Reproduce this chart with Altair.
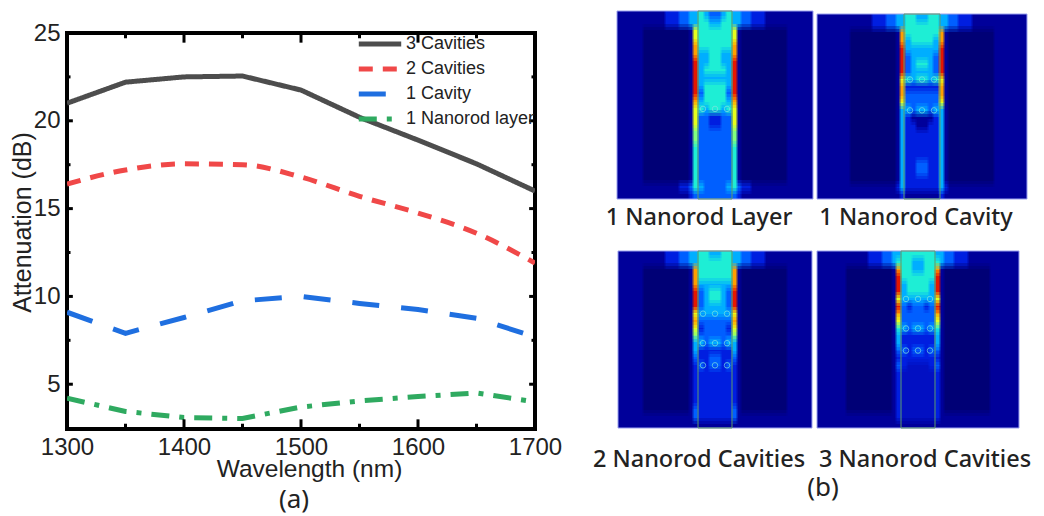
import altair as alt
import pandas as pd

wavelength = [1300, 1350, 1400, 1450, 1500, 1550, 1600, 1650, 1700]
cav3 = [21.0, 22.2, 22.5, 22.55, 21.75, 20.2, 18.9, 17.55, 16.0]
cav2 = [16.4, 17.2, 17.55, 17.5, 16.8, 15.7, 14.75, 13.6, 11.9]
cav1 = [9.1, 7.9, 8.8, 9.75, 10.0, 9.6, 9.25, 8.75, 7.7]
layer1 = [4.2, 3.45, 3.1, 3.05, 3.7, 4.05, 4.3, 4.5, 4.0]
series_names = ["3 Cavities", "2 Cavities", "1 Cavity", "1 Nanorod layer"]
series_values = [cav3, cav2, cav1, layer1]
series_colors = ["#4d4d4d", "#f04848", "#1f6fe0", "#2faa60"]
series_dash = [[1, 0], [14, 10], [27, 22], [18, 10, 5, 10]]
x_major = [1300, 1400, 1500, 1600, 1700]
x_minor = [1350, 1450, 1550, 1650]
y_major = [5, 10, 15, 20]
y_minor = [7.5, 12.5, 17.5, 22.5]

# Field strength read from the maps, 0 (navy) to 10 (dark red), one row per band
# from top to bottom, half a panel from the outer edge to the rod centre.
p1 = [
    [1, 1, 2, 3, 4, 4, 5, 4, 3], [1, 1, 2, 3, 4, 4, 5, 5, 4],
    [1, 0, 0, 0, 1, 7, 5, 5, 5], [1, 0, 0, 0, 1, 7, 5, 5, 5],
    [1, 0, 0, 0, 1, 8, 5, 5, 5], [1, 0, 0, 0, 1, 8, 4, 4, 5],
    [1, 0, 0, 0, 1, 9, 4, 4, 5], [1, 0, 0, 0, 1, 9, 4, 5, 5],
    [1, 0, 0, 0, 1, 9, 4, 4, 4], [1, 0, 0, 0, 1, 9, 4, 5, 5],
    [1, 0, 0, 0, 1, 9, 3, 5, 5], [1, 0, 0, 0, 1, 8, 4, 5, 5],
    [1, 0, 0, 0, 1, 7, 5, 4, 5], [1, 0, 0, 0, 1, 7, 3, 3, 2],
    [1, 0, 0, 0, 1, 7, 3, 3, 2], [1, 0, 0, 0, 1, 6, 3, 3, 3],
    [1, 0, 0, 0, 1, 6, 3, 3, 3], [1, 0, 0, 0, 1, 5, 3, 3, 3],
    [1, 0, 0, 0, 1, 5, 3, 3, 3], [1, 0, 0, 0, 1, 5, 3, 3, 3],
    [1, 0, 0, 0, 1, 5, 3, 3, 3], [1, 0, 0, 0, 1, 5, 3, 3, 3],
    [1, 1, 1, 2, 3, 5, 4, 3, 3], [1, 1, 1, 1, 2, 3, 3, 3, 3],
]
p2 = [
    [1, 1, 2, 3, 4, 4, 5, 5, 4], [1, 1, 2, 3, 4, 4, 5, 5, 5],
    [1, 0, 0, 0, 1, 8, 5, 5, 5], [1, 0, 0, 0, 1, 8, 4, 5, 5],
    [1, 0, 0, 0, 1, 9, 4, 4, 4], [1, 0, 0, 0, 1, 9, 3, 4, 4],
    [1, 0, 0, 0, 1, 9, 3, 4, 5], [1, 0, 0, 0, 1, 9, 3, 4, 4],
    [1, 0, 0, 0, 1, 7, 5, 4, 5], [1, 0, 0, 0, 1, 8, 2, 2, 2],
    [1, 0, 0, 0, 1, 8, 3, 3, 3], [1, 0, 0, 0, 1, 7, 3, 3, 3],
    [1, 0, 0, 0, 1, 4, 4, 3, 4], [1, 0, 0, 0, 1, 4, 2, 1, 1],
    [1, 0, 0, 0, 1, 4, 2, 2, 1], [1, 0, 0, 0, 1, 4, 2, 2, 2],
    [1, 0, 0, 0, 1, 4, 2, 2, 2], [1, 0, 0, 0, 1, 4, 2, 2, 2],
    [1, 0, 0, 0, 1, 4, 2, 2, 2], [1, 0, 0, 0, 1, 4, 2, 2, 3],
    [1, 0, 0, 0, 1, 4, 2, 2, 3], [1, 0, 0, 0, 1, 4, 2, 2, 2],
    [1, 1, 1, 1, 2, 4, 2, 2, 2], [1, 1, 1, 1, 1, 2, 1, 1, 1],
]
p3 = [
    [1, 1, 2, 3, 4, 4, 5, 5, 4], [1, 1, 2, 3, 4, 4, 5, 5, 5],
    [1, 0, 0, 0, 1, 8, 5, 5, 5], [1, 0, 0, 0, 1, 8, 5, 5, 5],
    [1, 0, 0, 0, 1, 8, 4, 4, 4], [1, 0, 0, 0, 1, 9, 3, 4, 5],
    [1, 0, 0, 0, 1, 9, 3, 4, 5], [1, 0, 0, 0, 1, 9, 3, 4, 4],
    [1, 0, 0, 0, 1, 7, 4, 4, 4], [1, 0, 0, 0, 1, 8, 3, 3, 3],
    [1, 0, 0, 0, 1, 7, 2, 3, 3], [1, 0, 0, 0, 1, 6, 3, 3, 3],
    [1, 0, 0, 0, 1, 4, 4, 3, 4], [1, 0, 0, 0, 1, 4, 2, 2, 2],
    [1, 0, 0, 0, 1, 3, 2, 2, 3], [1, 0, 0, 0, 1, 2, 3, 2, 3],
    [1, 0, 0, 0, 1, 2, 2, 2, 2], [1, 0, 0, 0, 1, 2, 2, 2, 2],
    [1, 0, 0, 0, 1, 2, 2, 2, 2], [1, 0, 0, 0, 1, 2, 2, 2, 2],
    [1, 0, 0, 0, 1, 2, 2, 2, 2], [1, 0, 0, 0, 1, 3, 2, 2, 2],
    [1, 1, 1, 1, 1, 3, 2, 2, 2], [1, 1, 1, 1, 1, 1, 1, 1, 1],
]
p4 = [
    [1, 1, 2, 3, 4, 4, 5, 5, 5], [1, 1, 2, 3, 4, 5, 5, 5, 4],
    [1, 0, 0, 0, 1, 8, 5, 5, 4], [1, 0, 0, 0, 1, 9, 5, 5, 5],
    [1, 0, 0, 0, 1, 9, 4, 5, 5], [1, 0, 0, 0, 1, 9, 4, 5, 5],
    [1, 0, 0, 0, 1, 7, 4, 4, 4], [1, 0, 0, 0, 1, 9, 3, 2, 3],
    [1, 0, 0, 0, 1, 8, 3, 3, 3], [1, 0, 0, 0, 1, 7, 3, 3, 3],
    [1, 0, 0, 0, 1, 5, 4, 3, 4], [1, 0, 0, 0, 1, 4, 2, 2, 2],
    [1, 0, 0, 0, 1, 4, 2, 2, 2], [1, 0, 0, 0, 1, 3, 3, 2, 3],
    [1, 0, 0, 0, 1, 2, 2, 2, 2], [1, 0, 0, 0, 1, 3, 2, 1.6, 1.6],
    [1, 0, 0, 0, 1, 2, 1.6, 1.6, 1.6], [1, 0, 0, 0, 1, 2, 1.6, 1.6, 1.6],
    [1, 0, 0, 0, 1, 2, 1.6, 1.6, 1.6], [1, 0, 0, 0, 1, 2, 1.6, 1.6, 1.6],
    [1, 0, 0, 0, 1, 2, 1.6, 1.6, 1.6], [1, 0, 0, 0, 1, 2, 1.6, 1.6, 1.6],
    [1, 1, 1, 1, 1, 2, 1.6, 1.6, 1.6], [1, 1, 1, 1, 1, 1, 1, 1, 1],
]
panel_maps = [p1, p2, p3, p4]
panel_titles = ["1 Nanorod Layer", "1 Nanorod Cavity", "2 Nanorod Cavities", "3 Nanorod Cavities"]
panel_dot_rows = [[12], [8, 12], [8, 12, 15], [6, 10, 13]]
panel_center = [716, 922, 716, 917]
panel_half = [98, 105, 97, 101]
panel_top = [9, 12, 252, 252]
panel_bottom = [197, 197, 429, 429]
panel_xdom = [[617, 815], [817, 1027], [617, 815], [817, 1027]]
panel_ydom = [[9, 197], [9, 197], [252, 429], [252, 429]]
rod_half = [17, 18, 17, 17]
title_dx = [-16, -6, -16, 2]
title_offset = [6, 6, 19, 19]
col_dist = [72, 50, 36, 26, 22, 17, 11, 6, 0]
levels = [0, 1, 2, 3, 4, 5, 6, 7, 8, 9, 10]
jet = ["#000078", "#00009c", "#0020e0", "#0060ff", "#00b0ff", "#20f0d8",
       "#80ff80", "#e8ff20", "#ffa000", "#e81800", "#a00000"]
blur_dx = [0, -1, 1, 0, 0, -1, 1, -1, 1]
blur_dy = [0, 0, 0, -3, 3, -3, 3, 3, -3]

FONT = "Liberation Sans"
TEXT = "#222222"


def panel_chart(i):
    cen, half, top, bot = panel_center[i], panel_half[i], panel_top[i], panel_bottom[i]
    grid = panel_maps[i]
    rh = (bot - top) / len(grid)
    edges = [half] + col_dist
    left_edge, right_edge = cen - half, cen + half
    base = []
    for r, row in enumerate(grid):
        y0, y1 = round(top + r * rh), round(top + (r + 1) * rh)
        for c, lv in enumerate(row):
            base.append(dict(x=cen - edges[c], x2=cen - edges[c + 1], y=y0, y2=y1, level=lv))
            base.append(dict(x=cen + edges[c + 1], x2=cen + edges[c], y=y0, y2=y1, level=lv))
    base.sort(key=lambda d: (d["y"], d["x"]))
    xs = alt.Scale(domain=panel_xdom[i], nice=False, zero=False)
    ys = alt.Scale(domain=panel_ydom[i][::-1], nice=False, zero=False)
    X = alt.X("x:Q", scale=xs, axis=None)
    Y = alt.Y("y:Q", scale=ys, axis=None)
    layers = []
    # The maps are soft in the picture: each copy is shifted a little inside the panel and averaged in.
    for k, (dx, dy) in enumerate(zip(blur_dx, blur_dy)):
        cells = []
        for d in base:
            cells.append(dict(
                x=max(left_edge, d["x"] + dx), x2=min(right_edge, d["x2"] + dx + (0.7 if k == 0 else 0)),
                y=max(top, d["y"] + dy), y2=min(bot, d["y2"] + dy + (0.7 if k == 0 else 0)), level=d["level"],
            ))
        layers.append(alt.Chart(pd.DataFrame(cells)).mark_rect(strokeWidth=0, opacity=1 / (k + 1)).encode(
            x=X, x2="x2:Q", y=Y, y2="y2:Q",
            fill=alt.Fill("level:Q", scale=alt.Scale(domain=levels, range=jet), legend=None),
        ))
    frame = alt.Chart(pd.DataFrame([dict(x=left_edge, x2=right_edge, y=top, y2=bot)])).mark_rect(
        fill=None, stroke="#9aa0ee", strokeWidth=1
    ).encode(x=X, x2="x2:Q", y=Y, y2="y2:Q")
    rod = alt.Chart(pd.DataFrame([dict(x=cen - rod_half[i], x2=cen + rod_half[i], y=top, y2=bot)])).mark_rect(
        fill=None, stroke="#5f9a6a", strokeWidth=1
    ).encode(x=X, x2="x2:Q", y=Y, y2="y2:Q")
    dots = []
    for r in panel_dot_rows[i]:
        for dx in [-12, 0, 12]:
            dots.append(dict(x=cen + dx, y=top + (r + 0.5) * rh))
    dot = alt.Chart(pd.DataFrame(dots)).mark_point(
        filled=False, stroke="#7fe8e0", strokeWidth=1, size=30, opacity=0.7
    ).encode(x=X, y=Y)
    return alt.layer(*layers, frame, rod, dot).properties(
        width=panel_xdom[i][1] - panel_xdom[i][0],
        height=panel_ydom[i][1] - panel_ydom[i][0],
        title=alt.TitleParams(panel_titles[i], orient="bottom", font="Noto Sans", fontSize=23.5,
                              fontWeight=500, color=TEXT, offset=title_offset[i], anchor="middle", dx=title_dx[i]),
    )


rows = []
for name, vals in zip(series_names, series_values):
    for w, v in zip(wavelength, vals):
        rows.append(dict(w=w, v=v, s=name))
df = pd.DataFrame(rows)

x_scale = alt.Scale(domain=[1300, 1700], nice=False, zero=False)
y_scale = alt.Scale(domain=[2.45, 25], nice=False, zero=False)
X = alt.X("w:Q", scale=x_scale, axis=alt.Axis(
    values=x_major, format="d", title="Wavelength (nm)", grid=False, ticks=False, domain=False,
    labelFlush=False, labelOverlap=False,
    labelFont=FONT, labelFontSize=24, labelColor=TEXT, labelPadding=6,
    titleFont=FONT, titleFontSize=24.5, titleFontWeight="normal", titleColor=TEXT, titlePadding=-2, titleX=242))
Y = alt.Y("v:Q", scale=y_scale, axis=alt.Axis(
    values=[5, 10, 15, 20, 25], format="d", title="Attenuation (dB)", grid=False, ticks=False, domain=False,
    labelFlush=False, labelOverlap=False,
    labelFont=FONT, labelFontSize=24, labelColor=TEXT, labelPadding=7,
    titleFont=FONT, titleFontSize=25, titleFontWeight="normal", titleColor=TEXT, titlePadding=-2, titleY=189))
stroke = alt.Stroke("s:N", scale=alt.Scale(domain=series_names, range=series_colors), legend=alt.Legend(
    title=None, orient="none", legendX=289, legendY=25, symbolType="stroke", symbolSize=1800,
    symbolStrokeWidth=5, labelFont=FONT, labelFontSize=18, labelColor=TEXT, labelLimit=200,
    clipHeight=16, rowPadding=7, labelOffset=2))
dash = alt.StrokeDash("s:N", scale=alt.Scale(domain=series_names, range=series_dash), legend=alt.Legend(
    title=None))

straight = alt.Chart(df[df.s != "2 Cavities"]).mark_line(strokeWidth=5, clip=True).encode(
    x=X, y=Y, stroke=stroke, strokeDash=dash)
curved = alt.Chart(df[df.s == "2 Cavities"]).mark_line(strokeWidth=5, clip=True, interpolate="monotone").encode(
    x=X, y=Y, stroke=stroke, strokeDash=dash)

tick_rows = []
for w in x_major:
    tick_rows += [dict(x=w, x2=w, y=25, y2=24.45), dict(x=w, x2=w, y=2.45, y2=3.0)]
for w in x_minor:
    tick_rows += [dict(x=w, x2=w, y=25, y2=24.7), dict(x=w, x2=w, y=2.45, y2=2.75)]
for v in y_major:
    tick_rows += [dict(x=1300, x2=1305, y=v, y2=v), dict(x=1695, x2=1700, y=v, y2=v)]
for v in y_minor:
    tick_rows += [dict(x=1300, x2=1303, y=v, y2=v), dict(x=1697, x2=1700, y=v, y2=v)]
ticks = alt.Chart(pd.DataFrame(tick_rows)).mark_rule(color="black", strokeWidth=3).encode(
    x=alt.X("x:Q", scale=x_scale), x2="x2:Q", y=alt.Y("y:Q", scale=y_scale), y2="y2:Q")

left = alt.layer(curved, straight, ticks).properties(
    width=468, height=396,
    view=alt.ViewConfig(stroke="black", strokeWidth=4),
    title=alt.TitleParams("(a)", orient="bottom", font="Noto Sans", fontSize=26, fontWeight="normal",
                          color=TEXT, offset=6, anchor="middle", dx=-7),
)

spacer = alt.Chart(pd.DataFrame({"a": [0]})).mark_point(opacity=0).encode(
    x=alt.X("a:Q", axis=None), y=alt.Y("a:Q", axis=None)).properties(width=1, height=1)

left_col = alt.vconcat(spacer, left, spacing=4)
right_col = alt.vconcat(
    alt.hconcat(panel_chart(0), panel_chart(1), spacing=2),
    alt.hconcat(panel_chart(2), panel_chart(3), spacing=2),
    spacing=21,
).properties(title=alt.TitleParams("(b)", orient="bottom", font="Noto Sans", fontSize=26, fontWeight="normal",
                                   color=TEXT, offset=4, anchor="middle", dx=11))

chart = alt.hconcat(left_col, right_col, spacing=28).properties(
    padding={"left": 0, "top": 0, "right": 0, "bottom": 0}
).configure_view(strokeWidth=0).configure_concat(spacing=0)

chart.save("out.html", embed_options={"renderer": "svg", "actions": False})
